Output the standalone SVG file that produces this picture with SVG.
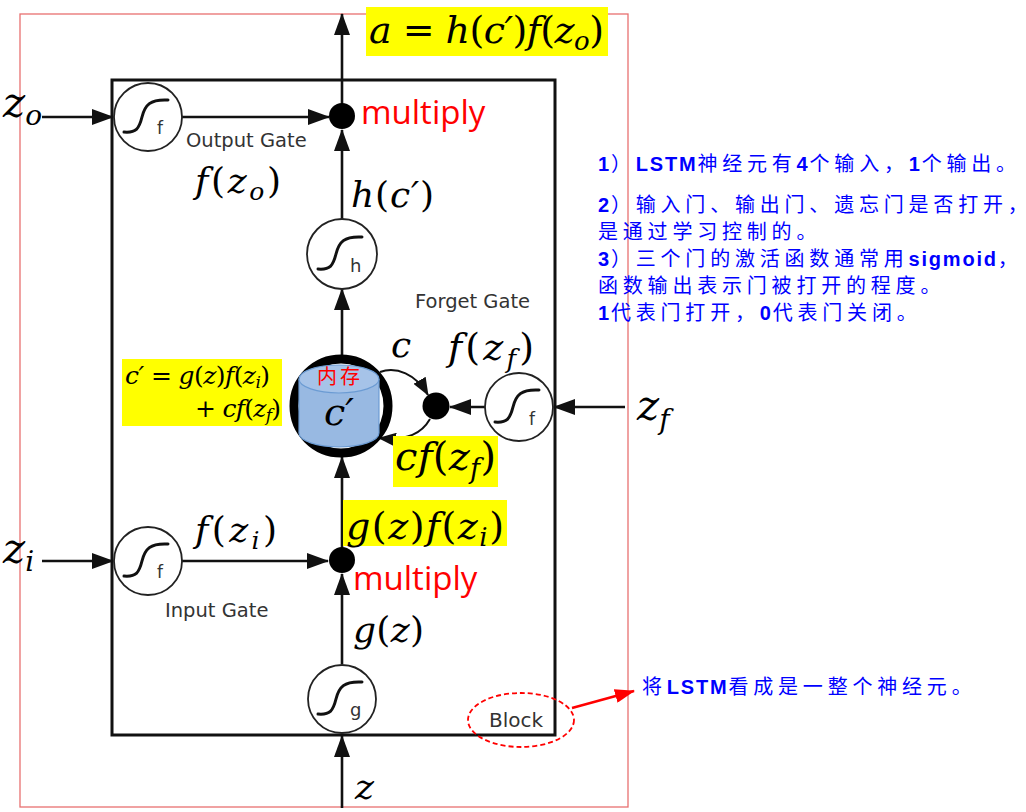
<svg xmlns="http://www.w3.org/2000/svg" width="1026" height="812" viewBox="0 0 1026 812">
<style>
.m{font-family:"DejaVu Serif","Liberation Serif",serif;font-style:italic;fill:#000}
.u{font-style:normal}
.lbl{font-family:"DejaVu Sans","Open Sans",sans-serif;fill:#333}
.gate{fill:#fff;stroke:#222;stroke-width:1.8}
.sig{fill:none;stroke:#111;stroke-width:3;stroke-linecap:round}
.conn{stroke:#111;stroke-width:2.6;fill:none}
.thin{stroke:#111;stroke-width:2;fill:none}
.red{font-family:"Open Sans","Liberation Sans",sans-serif;font-size:33px;fill:#ff0000}
.hl{fill:#ffff00}
.n{font-family:"Liberation Sans","Noto Sans CJK SC",sans-serif;font-size:20px;fill:#0000ff}
.cj{font-family:"Noto Sans CJK SC",sans-serif;letter-spacing:4.8px}
.end{font-family:"Noto Sans CJK SC",sans-serif;letter-spacing:0}
.lt{font-weight:bold;letter-spacing:1.8px}
</style>
<defs>
<marker id="ah" viewBox="0 0 22 16" markerWidth="22" markerHeight="16" refX="21" refY="8" orient="auto" markerUnits="userSpaceOnUse"><path d="M0,0 L22,8 L0,16 z" fill="#111"/></marker>
<marker id="ahs" viewBox="0 0 18 14" markerWidth="18" markerHeight="14" refX="17" refY="7" orient="auto" markerUnits="userSpaceOnUse"><path d="M0,0 L18,7 L0,14 z" fill="#111"/></marker>
<marker id="ahr" viewBox="0 0 20 14" markerWidth="20" markerHeight="14" refX="19" refY="7" orient="auto" markerUnits="userSpaceOnUse"><path d="M0,0 L20,7 L0,14 z" fill="#ff0000"/></marker>
<path id="sg" d="M-24,15 C-12,16 -9,12 -6,0 C-3,-12 2,-18 20,-17"/>
</defs>
<rect width="1026" height="812" fill="#fff"/>
<rect x="20" y="14" width="608" height="793" fill="none" stroke="#e87070" stroke-width="1.3"/>

<g id="block">
<rect x="112" y="80" width="443" height="655" fill="none" stroke="#111" stroke-width="3"/>
<text class="lbl" x="489" y="727" font-size="20">Block</text>
</g>

<g id="connectors">
<line class="conn" x1="342" y1="116" x2="342" y2="14" marker-end="url(#ah)"/>
<line class="conn" x1="42" y1="117" x2="113" y2="117" marker-end="url(#ah)"/>
<line class="conn" x1="182" y1="117" x2="329" y2="117" marker-end="url(#ah)"/>
<line class="conn" x1="342" y1="219" x2="342" y2="130" marker-end="url(#ah)"/>
<line class="conn" x1="342" y1="356" x2="342" y2="289" marker-end="url(#ah)"/>
<line class="conn" x1="485" y1="407" x2="450" y2="407" marker-end="url(#ah)"/>
<line class="conn" x1="625" y1="407" x2="554" y2="407" marker-end="url(#ah)"/>
<line class="conn" x1="342" y1="548" x2="342" y2="457" marker-end="url(#ah)"/>
<line class="conn" x1="42" y1="561" x2="113" y2="561" marker-end="url(#ah)"/>
<line class="conn" x1="182" y1="561" x2="328" y2="561" marker-end="url(#ah)"/>
<line class="conn" x1="342" y1="664" x2="342" y2="574" marker-end="url(#ah)"/>
<line class="conn" x1="342" y1="808" x2="342" y2="736" marker-end="url(#ah)"/>
<path class="thin" d="M380,372 C396,366 416,374 428,395" marker-end="url(#ahs)"/>
<path class="thin" d="M430,419 C422,433 408,441 379,438" marker-end="url(#ahs)"/>
<path d="M572,708 L634,691" stroke="#ff0000" stroke-width="2.5" fill="none" marker-end="url(#ahr)"/>
</g>

<g id="output-gate">
<circle class="gate" cx="148" cy="117" r="34"/>
<use href="#sg" class="sig" transform="translate(148,117)"/>
<text class="lbl" x="157" y="134" font-size="17">f</text>
<text class="lbl" x="186" y="147" font-size="19.5">Output Gate</text>
</g>

<g id="output-mult">
<circle cx="342" cy="116" r="13" fill="#000"/>
<text class="red" x="361" y="124">multiply</text>
</g>

<g id="h-node">
<circle class="gate" cx="342" cy="254" r="35"/>
<use href="#sg" class="sig" transform="translate(342,254)"/>
<text class="lbl" x="350" y="272" font-size="18">h</text>
</g>

<g id="forget-label">
<text class="lbl" x="415" y="308" font-size="19.5">Forget Gate</text>
</g>

<g id="cell">
<circle cx="341" cy="406" r="47" fill="#fff" stroke="#000" stroke-width="9"/>
<path d="M299,379 L299,433 A40,14 0 0 0 379,433 L379,379" fill="#98b9e2" stroke="#6b9bd3" stroke-width="1.2"/>
<ellipse cx="339" cy="379" rx="40" ry="14" fill="#a6c3e8" stroke="#6b9bd3" stroke-width="1.2"/>
<text x="317" y="384" font-family="Noto Sans CJK SC,sans-serif" font-size="20" letter-spacing="3" fill="#ff0000">内存</text>
<text class="m" x="324" y="425" font-size="38">c′</text>
</g>

<g id="forget-mult">
<circle cx="436" cy="406" r="13.5" fill="#000"/>
</g>

<g id="forget-gate">
<circle class="gate" cx="519" cy="407" r="34"/>
<use href="#sg" class="sig" transform="translate(519,407)"/>
<text class="lbl" x="529" y="425" font-size="17">f</text>
</g>

<g id="input-gate">
<circle class="gate" cx="148" cy="561" r="34"/>
<use href="#sg" class="sig" transform="translate(148,561)"/>
<text class="lbl" x="157" y="578" font-size="17">f</text>
<text class="lbl" x="165" y="617" font-size="19.5">Input Gate</text>
</g>

<g id="input-mult">
<circle cx="342" cy="560" r="13" fill="#000"/>
<text class="red" x="353" y="590">multiply</text>
</g>

<g id="g-node">
<circle class="gate" cx="342" cy="699" r="34"/>
<use href="#sg" class="sig" transform="translate(342,699)"/>
<text class="lbl" x="350" y="716" font-size="18">g</text>
</g>

<g id="math-labels">
<rect class="hl" x="366" y="7" width="242" height="49"/>
<text class="m" x="369" y="43" font-size="38" textLength="235">a <tspan class="u">=</tspan> h<tspan class="u">(</tspan>c′<tspan class="u">)</tspan>f<tspan class="u">(</tspan>z<tspan font-size="26" dy="7">o</tspan><tspan class="u" dy="-7">)</tspan></text>
<text class="m" x="3" y="117" font-size="42">z<tspan font-size="28" dy="8">o</tspan></text>
<text class="m" x="195" y="193" font-size="36" textLength="86">f<tspan class="u">(</tspan>z<tspan font-size="25" dy="7">o</tspan><tspan class="u" dy="-7">)</tspan></text>
<text class="m" x="351" y="207" font-size="36" textLength="83">h<tspan class="u">(</tspan>c′<tspan class="u">)</tspan></text>
<text class="m" x="391" y="357" font-size="36">c</text>
<text class="m" x="448" y="360" font-size="38" textLength="86">f<tspan class="u">(</tspan>z<tspan font-size="26" dy="8">f</tspan><tspan class="u" dy="-8">)</tspan></text>
<rect class="hl" x="122" y="359" width="160" height="67"/>
<text class="m" x="125" y="384" font-size="25" textLength="145">c′ <tspan class="u">=</tspan> g<tspan class="u">(</tspan>z<tspan class="u">)</tspan>f<tspan class="u">(</tspan>z<tspan font-size="17" dy="4">i</tspan><tspan class="u" dy="-4">)</tspan></text>
<text class="m" x="195" y="417" font-size="25" textLength="86"><tspan class="u">+</tspan> cf<tspan class="u">(</tspan>z<tspan font-size="17" dy="4">f</tspan><tspan class="u" dy="-4">)</tspan></text>
<rect class="hl" x="393" y="436" width="105" height="51"/>
<text class="m" x="395" y="470" font-size="40" textLength="101">cf<tspan class="u">(</tspan>z<tspan font-size="27" dy="8">f</tspan><tspan class="u" dy="-8">)</tspan></text>
<text class="m" x="637" y="420" font-size="42">z<tspan font-size="28" dy="9">f</tspan></text>
<rect class="hl" x="343" y="500" width="164" height="46"/>
<text class="m" x="346" y="539" font-size="38" textLength="158">g<tspan class="u">(</tspan>z<tspan class="u">)</tspan>f<tspan class="u">(</tspan>z<tspan font-size="26" dy="7">i</tspan><tspan class="u" dy="-7">)</tspan></text>
<text class="m" x="195" y="542" font-size="36" textLength="82">f<tspan class="u">(</tspan>z<tspan font-size="25" dy="7">i</tspan><tspan class="u" dy="-7">)</tspan></text>
<text class="m" x="3" y="563" font-size="42">z<tspan font-size="28" dy="8">i</tspan></text>
<text class="m" x="353" y="642" font-size="36" textLength="71">g<tspan class="u">(</tspan>z<tspan class="u">)</tspan></text>
<text class="m" x="355" y="799" font-size="36">z</text>
</g>

<g id="block-highlight">
<ellipse cx="521" cy="720" rx="53" ry="27" fill="none" stroke="#ff0000" stroke-width="1.8" stroke-dasharray="5,3"/>
</g>

<g id="notes">
<text class="n" x="598" y="171"><tspan class="lt">1</tspan><tspan class="cj">）</tspan><tspan class="lt">LSTM</tspan><tspan class="cj">神经元有</tspan><tspan class="lt">4</tspan><tspan class="cj">个输入，</tspan><tspan class="lt">1</tspan><tspan class="cj">个输出</tspan><tspan class="end">。</tspan></text>
<text class="n" x="598" y="212"><tspan class="lt">2</tspan><tspan class="cj">）输入门、输出门、遗忘门是否打开</tspan><tspan class="end">，</tspan></text>
<text class="n" x="598" y="239"><tspan class="cj">是通过学习控制的</tspan><tspan class="end">。</tspan></text>
<text class="n" x="598" y="266"><tspan class="lt">3</tspan><tspan class="cj">）三个门的激活函数通常用</tspan><tspan class="lt">sigmoid</tspan><tspan class="end">，</tspan></text>
<text class="n" x="598" y="293"><tspan class="cj">函数输出表示门被打开的程度</tspan><tspan class="end">。</tspan></text>
<text class="n" x="598" y="320"><tspan class="lt">1</tspan><tspan class="cj">代表门打开，</tspan><tspan class="lt">0</tspan><tspan class="cj">代表门关闭</tspan><tspan class="end">。</tspan></text>
<text class="n" x="642" y="694"><tspan class="cj">将</tspan><tspan class="lt">LSTM</tspan><tspan class="cj">看成是一整个神经元</tspan><tspan class="end">。</tspan></text>
</g>
</svg>
